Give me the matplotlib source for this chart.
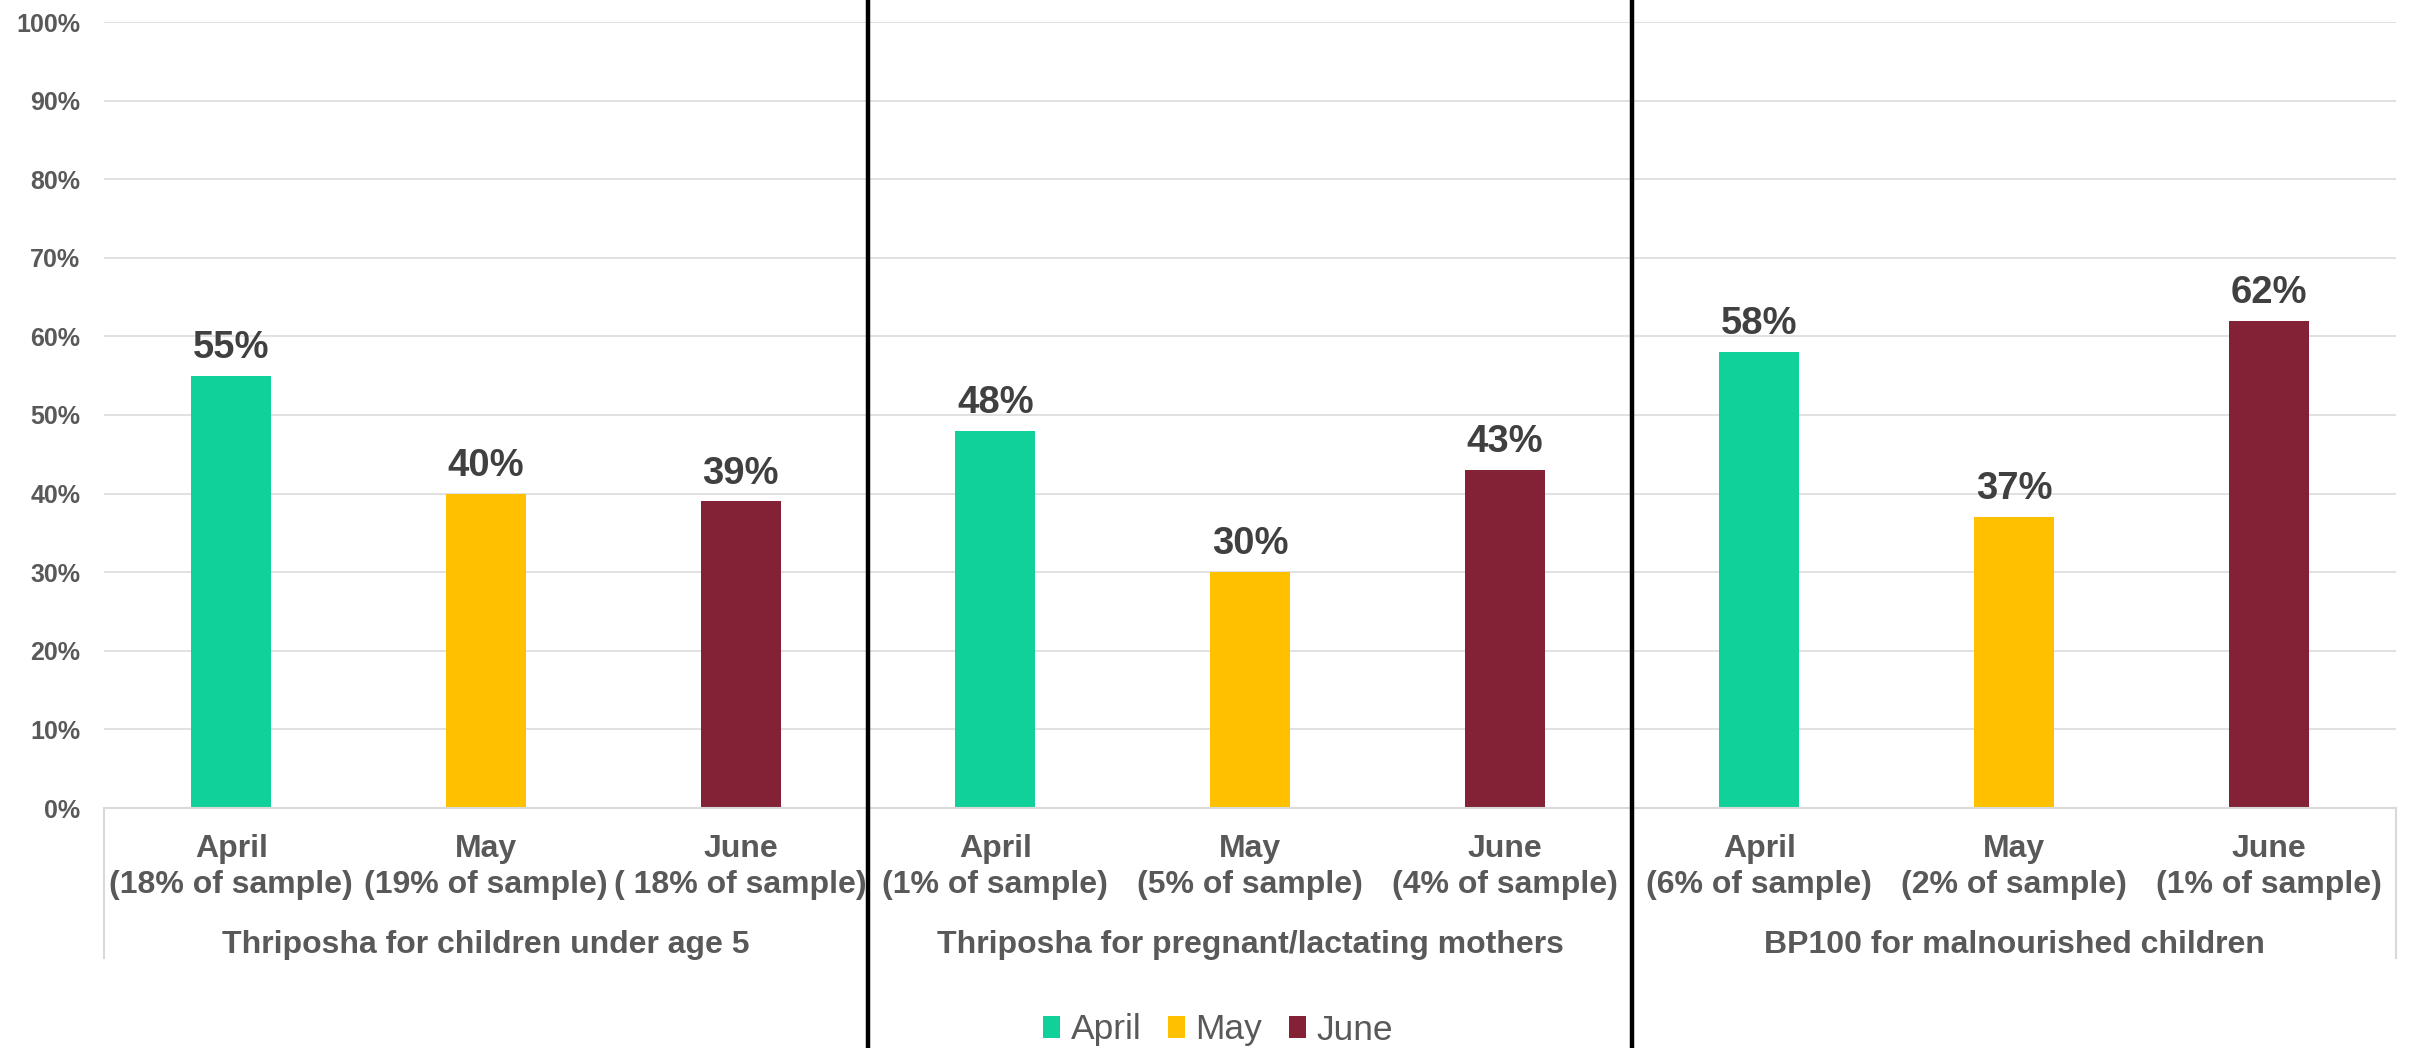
import matplotlib
matplotlib.use("Agg")
import matplotlib.pyplot as plt
from matplotlib.patches import Patch
from matplotlib.transforms import blended_transform_factory

plt.rcParams["font.family"] = ["Liberation Sans", "DejaVu Sans"]

months = ["April", "May", "June"]
month_colors = ["#11D19A", "#FFC000", "#832136"]
groups = ["Thriposha for children under age 5", "Thriposha for pregnant/lactating mothers", "BP100 for malnourished children"]
sample_labels = [
    "(18% of sample)", "(19% of sample)", "( 18% of sample)",
    "(1% of sample)", "(5% of sample)", "(4% of sample)",
    "(6% of sample)", "(2% of sample)", "(1% of sample)",
]
values = [55, 40, 39, 48, 30, 43, 58, 37, 62]
y_ticks = [0, 10, 20, 30, 40, 50, 60, 70, 80, 90, 100]

text_gray = "#595959"
label_gray = "#404040"
grid_gray = "#D9D9D9"

W, H = 2418, 1048
fig = plt.figure(figsize=(W / 100, H / 100), dpi=100)
ax = fig.add_axes([104 / W, 1 - 808 / H, (2396 - 104) / W, (808 - 22) / H])

n_per = len(months)
x = list(range(len(values)))
colors = [month_colors[i % n_per] for i in x]
ax.bar(x, values, width=0.315, color=colors, zorder=2)

for xi, v in zip(x, values):
    ax.annotate(f"{v}%", (xi, v), xytext=(0, 7), textcoords="offset points", ha="center", va="bottom", fontsize=27.5, fontweight="bold", color=label_gray)

ax.set_xlim(-0.5, len(values) - 0.5)
ax.set_ylim(0, 100)
ax.set_yticks(y_ticks)
ax.set_yticklabels([f"{t}%" for t in y_ticks], fontsize=18, fontweight="bold", color=text_gray)
ax.tick_params(axis="y", length=0, pad=17)
ax.grid(True, axis="y", color=grid_gray, linewidth=1.1, zorder=0)
ax.set_axisbelow(True)

ax.set_xticks(x)
ax.set_xticklabels([f"{months[i % n_per]}\n{sample_labels[i]}" for i in x], fontsize=23, fontweight="bold", color=text_gray, linespacing=1.24)
ax.tick_params(axis="x", length=0, pad=19)

for side in ["top", "right", "left"]:
    ax.spines[side].set_visible(False)
ax.spines["bottom"].set_color(grid_gray)
ax.spines["bottom"].set_linewidth(1.5)

# multi-level category box and group names
trans = blended_transform_factory(ax.transData, ax.transAxes)
bounds = [g * n_per - 0.5 for g in range(len(groups) + 1)]
for b in bounds:
    ax.plot([b, b], [0, -0.191], transform=trans, color=grid_gray, linewidth=1.5, clip_on=False)
for g, name in enumerate(groups):
    ax.text(g * n_per + (n_per - 1) / 2, -0.174, name, transform=trans, ha="center", va="center", fontsize=23, fontweight="bold", color=text_gray)

# black separators across the whole picture
ftrans = blended_transform_factory(ax.transData, fig.transFigure)
for b in bounds[1:-1]:
    ax.plot([b, b], [0, 1], transform=ftrans, color="black", linewidth=3.2, clip_on=False, zorder=5)

handles = [Patch(facecolor=c, edgecolor="none", label=m) for m, c in zip(months, month_colors)]
fig.legend(handles=handles, loc="center", bbox_to_anchor=(1218 / W, 1 - 1030 / H), ncol=3, frameon=False,
           fontsize=25.5, labelcolor=text_gray, handlelength=0.48, handleheight=0.55, handletextpad=0.3, columnspacing=0.75)

fig.savefig("out.png", dpi=100)
